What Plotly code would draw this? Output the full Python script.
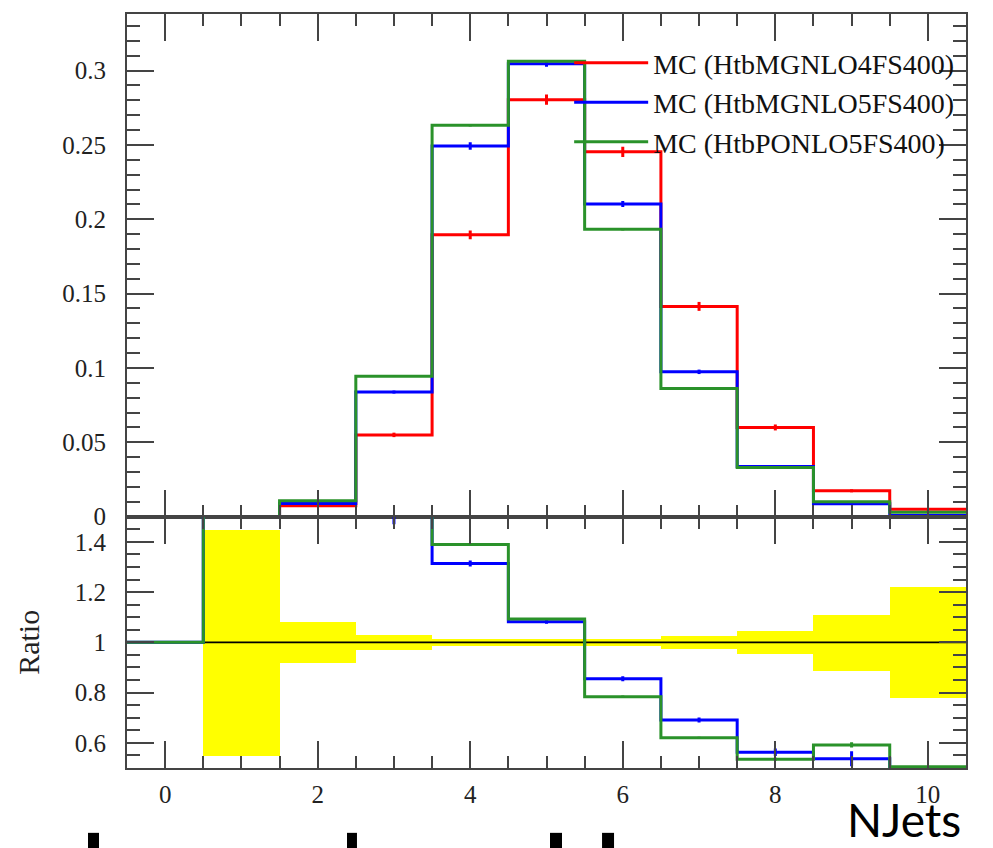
import plotly.graph_objects as go

# ---------------- data ----------------
bins = [0, 1, 2, 3, 4, 5, 6, 7, 8, 9, 10]
edges = [-0.5, 0.5, 1.5, 2.5, 3.5, 4.5, 5.5, 6.5, 7.5, 8.5, 9.5, 10.5]

names = ["MC (HtbMGNLO4FS400)", "MC (HtbMGNLO5FS400)", "MC (HtbPONLO5FS400)"]

red_vals = [0.0, 0.0, 0.0074, 0.055, 0.1895, 0.2804, 0.2453, 0.1414, 0.0600, 0.0174, 0.0050]
red_err = [0.0, 0.0, 0.0008, 0.0015, 0.0030, 0.0035, 0.0035, 0.0030, 0.0020, 0.0010, 0.0008]
blue_vals = [0.0, 0.0, 0.0089, 0.0838, 0.2493, 0.3045, 0.2102, 0.0974, 0.0337, 0.0087, 0.0008]
blue_err = [0.0, 0.0, 0.0005, 0.0010, 0.0025, 0.0020, 0.0020, 0.0015, 0.0010, 0.0005, 0.0003]
green_vals = [0.0, 0.0, 0.0107, 0.0945, 0.2632, 0.3063, 0.1933, 0.0862, 0.0330, 0.0101, 0.0030]
green_err = [0.0, 0.0, 0.0003, 0.0005, 0.0008, 0.0008, 0.0008, 0.0006, 0.0004, 0.0003, 0.0002]

ratio_ref = [1.0] * 11
ratio_band = [0.0, 0.45, 0.082, 0.030, 0.015, 0.013, 0.014, 0.025, 0.046, 0.112, 0.22]
ratio_blue = [1.0, 2.0, 2.0, 1.52, 1.314, 1.082, 0.855, 0.691, 0.563, 0.537, 0.30]
ratio_blue_err = [0.0, 0.0, 0.0, 0.05, 0.012, 0.008, 0.010, 0.010, 0.015, 0.030, 0.0]
ratio_green = [1.0, 2.0, 2.0, 1.72, 1.389, 1.093, 0.784, 0.620, 0.535, 0.592, 0.505]
ratio_green_err = [0.0, 0.0, 0.0, 0.0, 0.004, 0.004, 0.004, 0.004, 0.006, 0.010, 0.0]

xtick_vals = [0, 2, 4, 6, 8, 10]

# ---------------- styling ----------------
RED = "#ff0000"
BLUE = "#0000ff"
GREEN = "#2a922a"
YELLOW = "#ffff00"
FRAME = "#444444"
SERIF = "Liberation Serif, DejaVu Serif, serif"
LW = 3


def steps(vals):
    return vals + [vals[-1]]


fig = go.Figure()

# main panel step histograms
for vals, err, col, name in [
    (red_vals, red_err, RED, names[0]),
    (blue_vals, blue_err, BLUE, names[1]),
    (green_vals, green_err, GREEN, names[2]),
]:
    fig.add_trace(go.Scatter(
        x=edges, y=steps(vals), mode="lines", line=dict(color=col, width=LW, shape="hv"),
        name=name, showlegend=True, xaxis="x", yaxis="y"))
    fig.add_trace(go.Scatter(
        x=bins, y=vals, mode="markers", marker=dict(size=0.1, color=col, opacity=0),
        error_y=dict(type="data", array=err, color=col, thickness=LW, width=0, visible=True),
        showlegend=False, hoverinfo="skip", xaxis="x", yaxis="y"))

# ratio panel: uncertainty band of the reference
fig.add_trace(go.Bar(
    x=bins, y=[2 * e for e in ratio_band], base=[1 - e for e in ratio_band], width=1.0,
    marker=dict(color=YELLOW, line=dict(width=0)), showlegend=False, hoverinfo="skip",
    xaxis="x2", yaxis="y2"))
fig.add_trace(go.Scatter(
    x=edges, y=steps(ratio_ref), mode="lines", line=dict(color="black", width=1.6, shape="hv"),
    showlegend=False, xaxis="x2", yaxis="y2"))
for vals, err, col in [(ratio_blue, ratio_blue_err, BLUE), (ratio_green, ratio_green_err, GREEN)]:
    fig.add_trace(go.Scatter(
        x=edges, y=steps(vals), mode="lines", line=dict(color=col, width=LW, shape="hv"),
        showlegend=False, xaxis="x2", yaxis="y2"))
    fig.add_trace(go.Scatter(
        x=bins, y=vals, mode="markers", marker=dict(size=0.1, color=col, opacity=0),
        error_y=dict(type="data", array=err, color=col, thickness=LW, width=0, visible=True),
        showlegend=False, hoverinfo="skip", xaxis="x2", yaxis="y2", cliponaxis=True))

tickfont = dict(family=SERIF, size=25, color="#222222")
common_x = dict(range=[-0.5, 10.5], showline=True, linecolor=FRAME, linewidth=2, mirror="ticks",
                ticks="inside", ticklen=27, tickwidth=2, tickcolor=FRAME, tickmode="array",
                tickvals=xtick_vals, showgrid=False, zeroline=False,
                minor=dict(dtick=0.5, tick0=0, ticks="inside", ticklen=12, tickwidth=2,
                           tickcolor=FRAME, showgrid=False))
common_y = dict(showline=True, linecolor=FRAME, linewidth=2, mirror="ticks", ticks="inside",
                ticklen=27, tickwidth=2, tickcolor=FRAME, showgrid=False, zeroline=False,
                tickfont=tickfont, ticklabelstandoff=14)

fig.update_layout(
    width=993, height=848,
    margin=dict(l=127, r=27, t=12, b=80),
    paper_bgcolor="white", plot_bgcolor="white",
    bargap=0, barmode="overlay",
    xaxis=dict(domain=[0, 1], anchor="y", showticklabels=False, **common_x),
    yaxis=dict(domain=[0.3333, 1], anchor="x", range=[0, 0.338], dtick=0.05, tick0=0,
               minor=dict(dtick=0.01, tick0=0, ticks="inside", ticklen=13, tickwidth=2,
                          tickcolor=FRAME, showgrid=False),
               **common_y),
    xaxis2=dict(domain=[0, 1], anchor="y2", showticklabels=True, tickfont=tickfont,
                ticklabelstandoff=3, **common_x),
    yaxis2=dict(domain=[0, 0.3333], anchor="x2", range=[0.5, 1.5], dtick=0.2, tick0=0,
                minor=dict(dtick=0.05, tick0=0, ticks="inside", ticklen=13, tickwidth=2,
                           tickcolor=FRAME, showgrid=False),
                title=dict(text="Ratio", font=dict(family=SERIF, size=30, color="#222222"),
                           standoff=26),
                **common_y),
    legend=dict(x=0.527, y=0.968, xanchor="left", yanchor="top", bgcolor="rgba(0,0,0,0)",
                font=dict(family=SERIF, size=28, color="#111111"), itemwidth=74,
                tracegroupgap=0),
    showlegend=True,
)

fig.add_annotation(text="NJets", xref="paper", yref="paper", x=0.9964, y=-0.068,
                   xanchor="right", yanchor="middle", showarrow=False,
                   font=dict(family="Lato, Open Sans, sans-serif", size=46, color="black"))

# tops of large cut-off letters along the bottom edge of the picture
for x0, x1 in [(-0.0465, -0.0334), (0.2622, 0.2741), (0.5042, 0.5185), (0.5662, 0.5805)]:
    fig.add_shape(type="rect", xref="paper", yref="paper", x0=x0, x1=x1, y0=-0.13, y1=-0.086,
                  fillcolor="black", line=dict(width=0), layer="above")

fig.write_html("out.html")
